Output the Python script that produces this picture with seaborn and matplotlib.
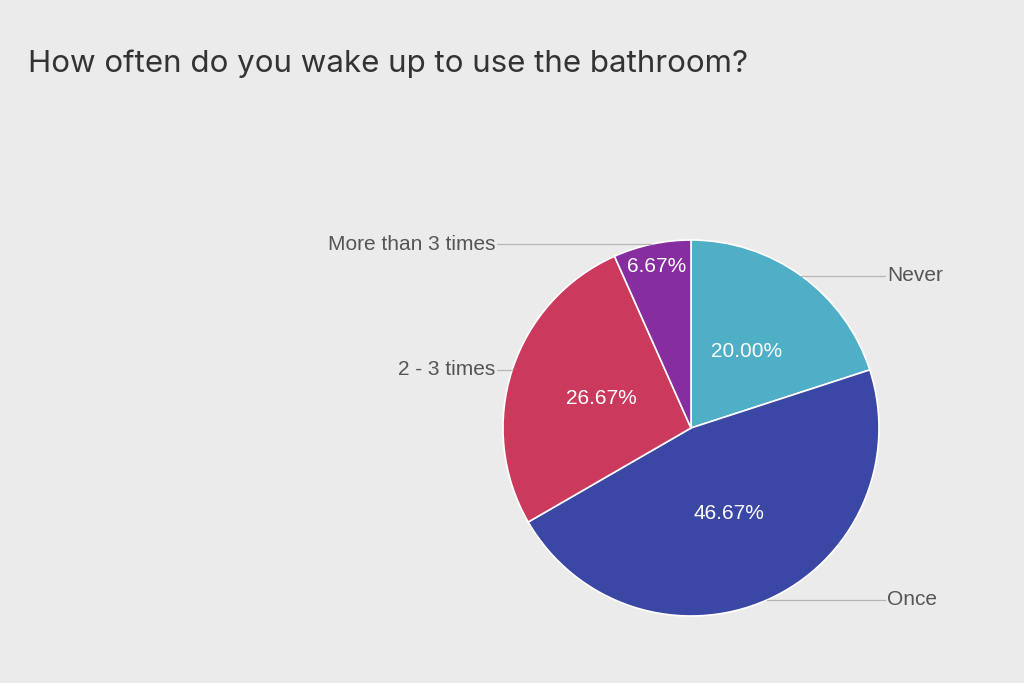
import numpy as np
import matplotlib
matplotlib.use("Agg")
import matplotlib.pyplot as plt
import seaborn as sns

# Survey answers, in the order they go round the pie (clockwise from 12 o'clock)
answers = ["Never", "Once", "2 - 3 times", "More than 3 times"]
shares = [20.00, 46.67, 26.67, 6.67]
colors = ["#4eafc6", "#3b47a4", "#cb3a5d", "#862d9f"]
title = "How often do you wake up to use the bathroom?"

sns.set_theme(style="white")
plt.rcParams["font.family"] = ["Liberation Sans", "DejaVu Sans"]

bg = "#ebebeb"
fig = plt.figure(figsize=(10.24, 6.83), dpi=100, facecolor=bg)
ax = fig.add_axes([0, 0, 1, 1])
ax.set_facecolor(bg)

cx, cy, r = 691, 683 - 428, 188
wedges, _ = ax.pie(shares, colors=colors, startangle=90, counterclock=False,
                   center=(cx, cy), radius=r,
                   wedgeprops=dict(edgecolor="white", linewidth=1.2))
# pie() resets the limits, so pin the pixel-like frame afterwards
ax.set_xlim(0, 1024)
ax.set_ylim(0, 683)
ax.axis("off")

fig.text(28 / 1024, 1 - 64 / 683, title, fontsize=22.5, color="#333333",
         family=["Inter", "DejaVu Sans"], va="center", ha="left")

pie_top = cy + r
for w, name, val in zip(wedges, answers, shares):
    mid = np.deg2rad((w.theta1 + w.theta2) / 2)
    # percentage inside the slice
    pr = 0.88 if val < 10 else 0.5
    ax.text(cx + pr * r * np.cos(mid), cy + pr * r * np.sin(mid), f"{val:.2f}%",
            color="white", fontsize=15, ha="center", va="center")
    # leader line out to the side label
    px, py = cx + r * np.cos(mid), cy + r * np.sin(mid)
    ly = min(py, pie_top)
    if np.cos(mid) >= 0:
        ex = 885
        ax.plot([px, px, ex], [py, ly, ly], color="#b5b5b5", lw=0.9)
        ax.text(ex + 2, ly, name, fontsize=15, color="#555555", ha="left", va="center")
    else:
        ex = 497
        ax.plot([px, px, ex], [py, ly, ly], color="#b5b5b5", lw=0.9)
        ax.text(ex - 2, ly, name, fontsize=15, color="#555555", ha="right", va="center")

fig.savefig("out.png", dpi=100, facecolor=bg)
